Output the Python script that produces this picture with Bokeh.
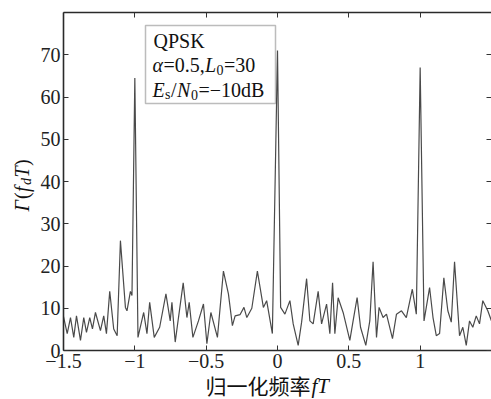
import math
from bokeh.plotting import figure
from bokeh.models import (Range1d, LinearAxis, FixedTicker, Label, BoxAnnotation)
from bokeh.embed import file_html
from bokeh.resources import INLINE

# ---- data ----
freq = [-1.5, -1.474, -1.451, -1.428, -1.409, -1.381, -1.358, -1.339, -1.316, -1.297,
        -1.276, -1.241, -1.218, -1.199, -1.176, -1.148, -1.124, -1.101, -1.066, -1.055,
        -1.031, -1.02, -1.0, -0.978, -0.938, -0.915, -0.896, -0.864, -0.826, -0.782,
        -0.752, -0.74, -0.717, -0.694, -0.661, -0.635, -0.619, -0.593, -0.554, -0.519,
        -0.495, -0.467, -0.421, -0.379, -0.344, -0.316, -0.297, -0.262, -0.235, -0.215,
        -0.18, -0.141, -0.099, -0.076, -0.036, 0.0, 0.022, 0.052, 0.087, 0.11,
        0.145, 0.169, 0.204, 0.227, 0.25, 0.285, 0.309, 0.344, 0.367, 0.386,
        0.402, 0.425, 0.46, 0.507, 0.53, 0.558, 0.582, 0.619, 0.647, 0.67,
        0.694, 0.712, 0.74, 0.764, 0.806, 0.834, 0.869, 0.903, 0.945, 0.973,
        1.0, 1.027, 1.066, 1.09, 1.113, 1.136, 1.166, 1.194, 1.218, 1.241,
        1.276, 1.299, 1.323, 1.346, 1.369, 1.393, 1.416, 1.439, 1.474, 1.5]
gamma = [8, 4, 7.8, 3.1, 8.2, 2.4, 7.8, 4.3, 7.8, 5.1,
         9, 4.7, 8.2, 4, 14, 5.1, 3.5, 26, 10.2, 9.4,
         14, 13, 64.5, 3.1, 9, 4, 11.4, 3.1, 5.5, 13.4,
         7, 11.4, 2, 7.8, 16, 7.8, 11.4, 3.1, 7, 11,
         1.6, 9, 3.1, 18.8, 13.4, 5.9, 8.2, 8.5, 10.2, 7.8,
         10, 18.8, 10.2, 11.8, 4, 71, 10.2, 8.6, 11.8, 6.3,
         1.2, 6.7, 17, 7, 6.3, 14, 6.3, 11, 4, 16,
         4, 12.5, 9, 2.4, 7, 12.5, 5.5, 1.2, 7, 21,
         3.1, 10.2, 7.8, 8.6, 2.8, 8.6, 9.4, 7.8, 14.5, 8.6,
         67, 7, 14.9, 7.8, 3.5, 4, 17.2, 9.4, 6.7, 21,
         3.5, 5.5, 1.2, 7, 5.5, 8.2, 6.3, 11.8, 9.4, 7]
x_ticks = [-1.5, -1, -0.5, 0, 0.5, 1]
x_tick_labels = ["\u22121.5", "\u22121", "\u22120.5", "0", "0.5", "1"]
y_ticks = [0, 10, 20, 30, 40, 50, 60, 70]

X0, X1 = -1.5, 1.5      # data extent of the axes box
Y0, Y1 = 0, 80

# ---- geometry (page pixels; the Bokeh page template has no body margin) ----
W, H = 491, 399
AL, AR, AT, AB = 63, 491, 12, 350     # axes box in page px
CL, CR, CT, CB = 0, W, 0, H           # canvas in page px
sx = (AR - AL) / (X1 - X0)
sy = (AB - AT) / (Y1 - Y0)

def dx(px):
    return X0 + (px - AL) / sx

def dy(py):
    return Y0 + (AB - py) / sy

SERIF = "Liberation Serif"

p = figure(width=W, height=H, output_backend="svg", toolbar_location=None,
           x_range=Range1d(dx(CL), dx(CR)), y_range=Range1d(dy(CB), dy(CT)),
           x_axis_location=None, y_axis_location=None,
           min_border_left=0, min_border_right=0, min_border_top=0,
           min_border_bottom=0)
p.outline_line_color = None
p.xgrid.visible = False
p.ygrid.visible = False
p.background_fill_color = "white"
p.border_fill_color = "white"

def make_axis(ticks, loc, bounds, show_labels=True, overrides=None):
    ax = LinearAxis(fixed_location=loc, bounds=bounds)
    ax.ticker = FixedTicker(ticks=ticks)
    ax.major_tick_in = 5
    ax.major_tick_out = 0
    ax.minor_tick_line_color = None
    ax.axis_line_color = "#2a2a2a"
    ax.axis_line_width = 1.6
    ax.major_tick_line_color = "#333333"
    ax.major_tick_line_width = 1
    ax.major_label_text_font = SERIF
    ax.major_label_text_font_size = "20px"
    ax.major_label_text_color = "#222222"
    if show_labels:
        ax.major_label_standoff = 3
        if overrides:
            ax.major_label_overrides = overrides
    else:
        ax.major_label_standoff = 0
        ax.major_label_overrides = {t: "" for t in ticks}
    return ax

p.add_layout(make_axis(x_ticks, Y0, (X0, X1), True,
                       {t: l for t, l in zip(x_ticks, x_tick_labels)}), "below")
p.add_layout(make_axis(y_ticks, X0, (Y0, Y1), True), "left")
p.add_layout(make_axis(x_ticks, Y1, (X0, X1), False), "above")
right = make_axis(y_ticks, X1, (Y0, Y1), False)
right.axis_line_color = None
p.add_layout(right, "right")

p.line(freq, gamma, line_color="#4a4a4a", line_width=1.2)

# ---- legend box ----
p.add_layout(BoxAnnotation(left=dx(145), right=dx(275), top=dy(25), bottom=dy(103),
                           fill_color=None, line_color="#222222", line_width=1.5))

def piece(text, px, py, size, italic=False, font=SERIF, angle=0.0):
    p.add_layout(Label(x=dx(px), y=dy(py), text=text, text_font=font,
                       text_font_size=f"{size}px",
                       text_font_style="italic" if italic else "normal",
                       text_color="#111111", text_align="left",
                       text_baseline="middle", angle=angle))

F, S = 20, 14
piece("QPSK", 153, 40, F)
y2 = 64
x = 152
piece("\u03b1", x, y2, F, italic=True); x += 11
piece("=0.5,", x, y2, F); x += 41.5
piece("L", x, y2, F, italic=True); x += 11.5
piece("0", x, y2 + 5, S); x += 7.5
piece("=30", x, y2, F)
y3 = 89
x = 152
piece("E", x, y3, F, italic=True); x += 12.5
piece("s", x, y3 + 5, S); x += 6
piece("/", x, y3, F); x += 6
piece("N", x, y3, F, italic=True); x += 14
piece("0", x, y3 + 5, S); x += 7.5
piece("=\u221210dB", x, y3, F)

# ---- y axis label: Γ(f_d T), rotated ----
A = math.pi / 2
ycur = 211
xc = 21
piece("\u0393", xc, ycur, F, italic=True, angle=A); ycur -= 12.5
piece("(", xc, ycur, F, angle=A); ycur -= 7
piece("f", xc, ycur, F, italic=True, angle=A); ycur -= 7
piece("d", xc + 5, ycur, S, italic=True, angle=A); ycur -= 7.5
piece("T", xc, ycur, F, italic=True, angle=A); ycur -= 11.5
piece(")", xc, ycur, F, angle=A)

# ---- x axis label: 归一化频率fT ----
xl = 205
piece("\u5f52\u4e00\u5316\u9891\u7387", xl, 384, 21, font="Noto Sans CJK SC")
piece("fT", xl + 106, 385, 21, italic=True)

open("out.html", "w").write(file_html(p, INLINE))
